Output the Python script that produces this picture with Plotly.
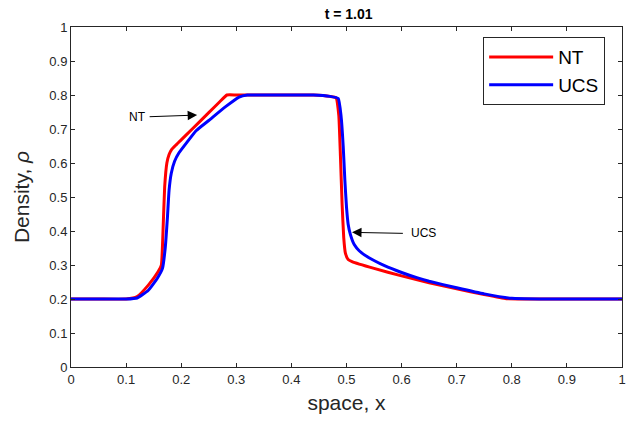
import plotly.graph_objects as go

x_nt = [0, 0.05, 0.1, 0.12, 0.14, 0.158, 0.164, 0.167, 0.17, 0.174, 0.178, 0.182, 0.19, 0.2, 0.22, 0.25, 0.27, 0.283, 0.3, 0.35, 0.4, 0.44, 0.47, 0.481, 0.486, 0.489, 0.492, 0.495, 0.498, 0.503, 0.51, 0.55, 0.6, 0.65, 0.7, 0.75, 0.79, 0.85, 0.9, 1.0]
y_nt = [0.2, 0.2, 0.2, 0.207, 0.24, 0.28, 0.3, 0.4, 0.53, 0.6, 0.625, 0.638, 0.652, 0.668, 0.7, 0.748, 0.78, 0.8, 0.8, 0.8, 0.8, 0.8, 0.796, 0.792, 0.74, 0.62, 0.48, 0.38, 0.335, 0.316, 0.31, 0.29, 0.268, 0.248, 0.23, 0.213, 0.201, 0.2, 0.2, 0.2]

x_ucs = [0, 0.05, 0.1, 0.12, 0.14, 0.157, 0.166, 0.171, 0.175, 0.178, 0.182, 0.188, 0.196, 0.21, 0.227, 0.25, 0.28, 0.305, 0.32, 0.35, 0.4, 0.44, 0.47, 0.485, 0.49, 0.494, 0.497, 0.5, 0.503, 0.507, 0.514, 0.523, 0.54, 0.569, 0.6, 0.629, 0.65, 0.7, 0.75, 0.8, 0.85, 0.9, 1.0]
y_ucs = [0.2, 0.2, 0.2, 0.203, 0.225, 0.262, 0.29, 0.35, 0.44, 0.52, 0.57, 0.605, 0.63, 0.66, 0.695, 0.725, 0.765, 0.794, 0.8, 0.8, 0.8, 0.8, 0.796, 0.79, 0.74, 0.65, 0.55, 0.47, 0.42, 0.39, 0.36, 0.342, 0.322, 0.298, 0.278, 0.262, 0.252, 0.233, 0.215, 0.202, 0.2, 0.2, 0.2]

x_ticks = [0, 0.1, 0.2, 0.3, 0.4, 0.5, 0.6, 0.7, 0.8, 0.9, 1]
y_ticks = [0, 0.1, 0.2, 0.3, 0.4, 0.5, 0.6, 0.7, 0.8, 0.9, 1]

FONT = "Liberation Sans, Arial"
AX = "#262626"

fig = go.Figure()
fig.add_trace(go.Scatter(x=x_nt, y=y_nt, mode="lines", name="NT",
                         line=dict(color="#ff0000", width=3, shape="spline", smoothing=0.4)))
fig.add_trace(go.Scatter(x=x_ucs, y=y_ucs, mode="lines", name="UCS",
                         line=dict(color="#0000ff", width=3, shape="spline", smoothing=0.4)))

axis_common = dict(showline=True, linecolor=AX, linewidth=1, mirror="ticks",
                   ticks="inside", ticklen=4, tickcolor=AX, showgrid=False,
                   zeroline=False, ticklabeloverflow="allow",
                   tickfont=dict(family=FONT, size=13, color=AX))

fig.update_xaxes(range=[0, 1], tickvals=x_ticks, ticktext=[f"{v:g}" for v in x_ticks],
                 title=dict(text="space, x", font=dict(family=FONT, size=21, color=AX), standoff=9),
                 **axis_common)
fig.update_yaxes(range=[0, 1], tickvals=y_ticks, ticktext=[f"{v:g}" for v in y_ticks],
                 title=dict(text="Density, <i>ρ</i>", font=dict(family=FONT, size=21, color=AX), standoff=13),
                 **axis_common)

fig.add_annotation(x=0.229, y=0.741, ax=0.14, ay=0.736, xref="x", yref="y", axref="x", ayref="y",
                   text="", showarrow=True, arrowhead=2, arrowsize=1.9, arrowwidth=1, arrowcolor="black")
fig.add_annotation(x=0.12, y=0.736, xref="x", yref="y", text="NT", showarrow=False,
                   xanchor="center", font=dict(family=FONT, size=12, color="black"))
fig.add_annotation(x=0.51, y=0.396, ax=0.605, ay=0.393, xref="x", yref="y", axref="x", ayref="y",
                   text="", showarrow=True, arrowhead=2, arrowsize=1.9, arrowwidth=1, arrowcolor="black")
fig.add_annotation(x=0.64, y=0.393, xref="x", yref="y", text="UCS", showarrow=False,
                   xanchor="center", font=dict(family=FONT, size=12, color="black"))

fig.update_layout(
    width=627, height=423,
    margin=dict(l=71, r=1, t=27, b=56),
    paper_bgcolor="white", plot_bgcolor="white",
    title=dict(text="<b>t = 1.01</b>", x=0.556, xanchor="center", y=0.967, yanchor="middle",
               font=dict(family=FONT, size=14, color="black")),
    legend=dict(x=0.748, y=0.97, xanchor="left", yanchor="top",
                bordercolor=AX, borderwidth=1, bgcolor="white",
                font=dict(family=FONT, size=19, color="black"),
                tracegroupgap=0, itemwidth=64),
    showlegend=True,
)

fig.write_html("out.html")
